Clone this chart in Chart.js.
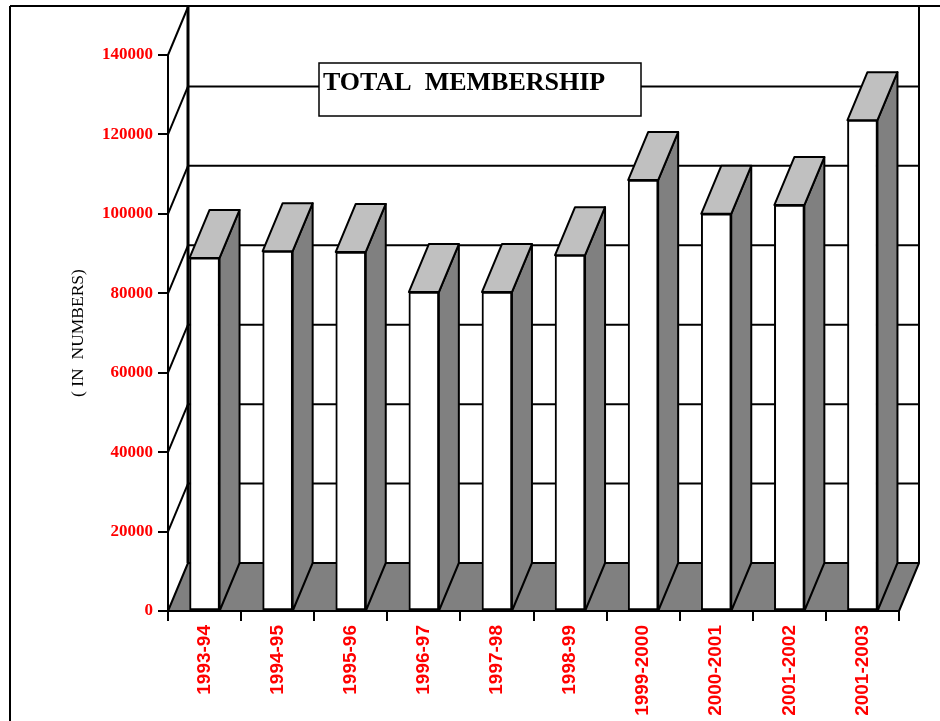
<!DOCTYPE html>
<html>
<head>
<meta charset="utf-8">
<title>Total Membership</title>
<script src="https://cdn.jsdelivr.net/npm/chart.js@4/dist/chart.umd.js"></script>
<style>
    html, body { margin: 0; padding: 0; background: #fff; overflow: hidden; }
    canvas { display: block; }
</style>
</head>
<body>
<canvas id="chart-area" width="940" height="721"></canvas>
<script>
// Data

var years = ['1993-94', '1994-95', '1995-96', '1996-97', '1997-98', '1998-99', '1999-2000', '2000-2001', '2001-2002', '2001-2003'];
var members = [88900, 90600, 90400, 80300, 80300, 89600, 108500, 100000, 102200, 123600];
var yMax = 140000;
var yStep = 20000;

// How far the back wall sits behind the front of the chart
var depthX = 20;
var depthY = 48;

function quad(ctx, pts, fill) {
    ctx.beginPath();
    ctx.moveTo(pts[0][0], pts[0][1]);
    for (var i = 1; i < pts.length; i++) {
        ctx.lineTo(pts[i][0], pts[i][1]);
    }
    ctx.closePath();
    ctx.fillStyle = fill;
    ctx.fill();
    ctx.stroke();
}

function line(ctx, x1, y1, x2, y2, width) {
    ctx.lineWidth = width;
    ctx.beginPath();
    ctx.moveTo(x1, y1);
    ctx.lineTo(x2, y2);
    ctx.stroke();
}

// Page frame, walls, floor and the back faces of the bars

var box3d = {
    id: 'box3d',
    beforeDatasetsDraw: function (chart) {
        var ctx = chart.ctx;
        var area = chart.chartArea;
        var y = chart.scales.y;
        var zero = y.getPixelForValue(0);

        ctx.save();
        ctx.strokeStyle = '#000';
        ctx.lineJoin = 'round';

        line(ctx, 10, 6, 10, 721, 2);
        line(ctx, 10, 6, 940, 6, 2);

        ctx.lineWidth = 2;
        quad(ctx, [
            [area.left, zero],
            [area.left + depthX, zero - depthY],
            [area.right + depthX, zero - depthY],
            [area.right, zero]
        ], '#808080');

        for (var v = yStep; v <= yMax; v += yStep) {
            var py = y.getPixelForValue(v);
            line(ctx, area.left, py, area.left + depthX, py - depthY, 2);
            if (v < yMax) {
                line(ctx, area.left + depthX, py - depthY, area.right + depthX, py - depthY, 2);
            }
        }
        line(ctx, area.left + depthX, area.top - depthY, area.left + depthX, zero - depthY, 3);
        line(ctx, area.right + depthX, area.top - depthY, area.right + depthX, zero - depthY, 2);

        // side and top of each bar, taken from the bar elements
        ctx.lineWidth = 2;
        chart.getDatasetMeta(0).data.forEach(function (bar) {
            var right = bar.x + bar.width / 2;
            var left = bar.x - bar.width / 2;
            quad(ctx, [
                [right, bar.y],
                [right + depthX, bar.y - depthY],
                [right + depthX, zero - depthY],
                [right, zero]
            ], '#808080');
            quad(ctx, [
                [left, bar.y],
                [left + depthX, bar.y - depthY],
                [right + depthX, bar.y - depthY],
                [right, bar.y]
            ], '#c0c0c0');
        });
        ctx.restore();
    },
    afterDraw: function (chart) {
        var ctx = chart.ctx;
        ctx.save();
        ctx.fillStyle = '#fff';
        ctx.strokeStyle = '#000';
        ctx.lineWidth = 1.5;
        ctx.fillRect(319, 63, 322, 53);
        ctx.strokeRect(319, 63, 322, 53);
        ctx.fillStyle = '#000';
        ctx.font = 'bold 26px "Liberation Serif"';
        ctx.textBaseline = 'alphabetic';
        ctx.fillText('TOTAL  MEMBERSHIP', 323, 90);
        ctx.restore();
    }
};

// The Graph

var config = {
    type: 'bar',
    data: {
        labels: years,
        datasets: [{
            data: members,
            backgroundColor: '#fff',
            borderColor: '#000',
            borderWidth: 2,
            borderSkipped: false,
            barThickness: 30
        }]
    },
    options: {
        responsive: false,
        animation: false,
        layout: {
            padding: { top: 55, right: 41 }
        },
        plugins: {
            legend: { display: false },
            tooltip: { enabled: false }
        },
        scales: {
            x: {
                afterFit: function (scale) { scale.height = 110; },
                grid: {
                    drawOnChartArea: false,
                    color: '#000',
                    lineWidth: 2,
                    tickLength: 10
                },
                border: { color: '#000', width: 2 },
                ticks: {
                    autoSkip: false,
                    minRotation: 90,
                    maxRotation: 90,
                    padding: 4,
                    color: '#ff0000',
                    font: { family: '"Liberation Sans"', weight: 'bold', size: 19 }
                }
            },
            y: {
                min: 0,
                max: yMax,
                afterFit: function (scale) { scale.width = 168; },
                grid: {
                    drawOnChartArea: false,
                    color: '#000',
                    lineWidth: 2,
                    tickLength: 10
                },
                border: { color: '#000', width: 2 },
                ticks: {
                    stepSize: yStep,
                    padding: 5,
                    color: '#ff0000',
                    font: { family: '"Liberation Serif"', weight: 'bold', size: 17 },
                    callback: function (value) { return String(value); }
                },
                title: {
                    display: true,
                    text: '( IN  NUMBERS)',
                    color: '#000',
                    padding: { top: 68, bottom: 0 },
                    font: { family: '"Liberation Serif"', size: 17.5 }
                }
            }
        }
    },
    plugins: [box3d]
};

// Loading Up the Graph

window.onload = function () {
    var ctx = document.getElementById('chart-area').getContext('2d');
    window.myBar = new Chart(ctx, config);
};
</script>
</body>
</html>
